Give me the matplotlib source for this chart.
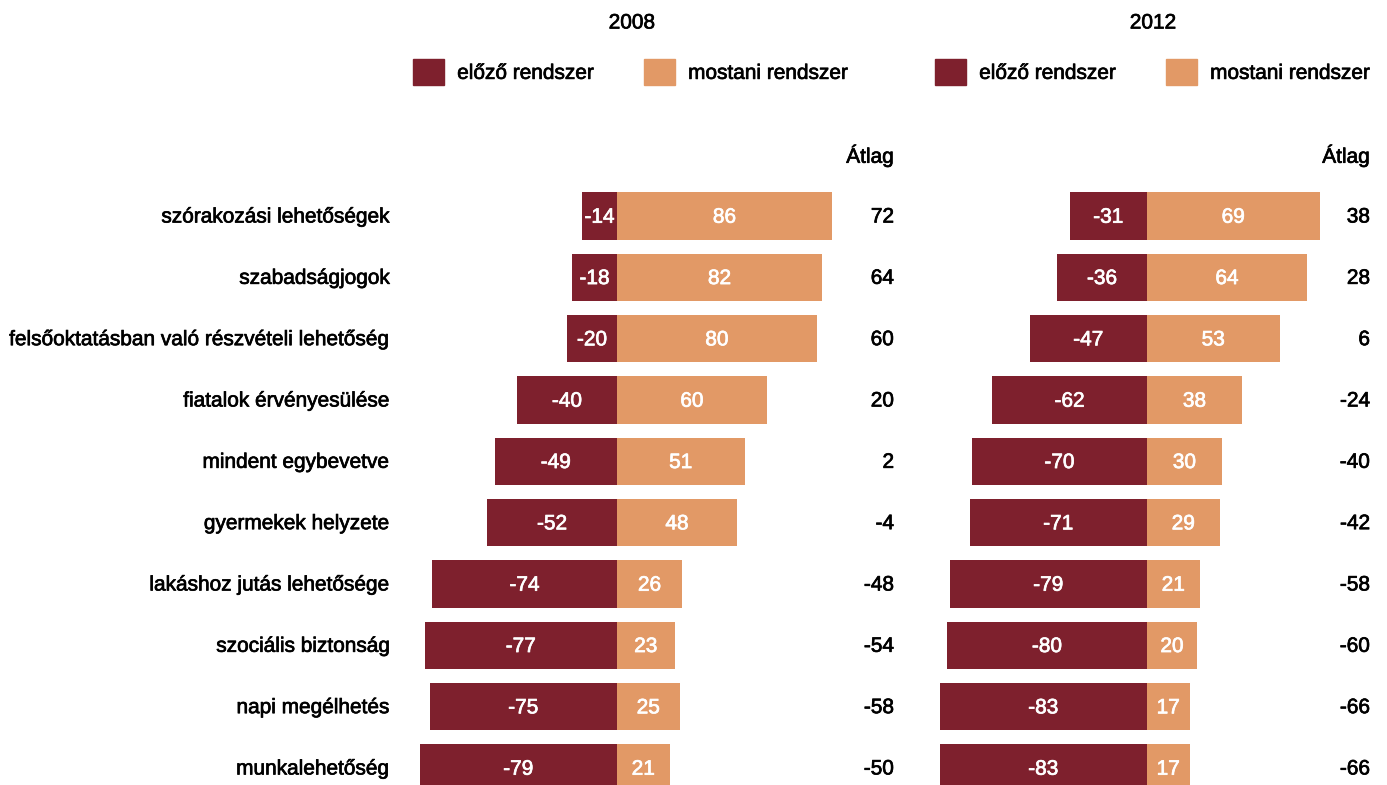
import matplotlib.pyplot as plt
import matplotlib.patheffects as pe
from matplotlib.patches import Patch

plt.rcParams['font.family'] = ['Liberation Sans', 'DejaVu Sans']

categories = ['szórakozási lehetőségek', 'szabadságjogok',
              'felsőoktatásban való részvételi lehetőség', 'fiatalok érvényesülése',
              'mindent egybevetve', 'gyermekek helyzete', 'lakáshoz jutás lehetősége',
              'szociális biztonság', 'napi megélhetés', 'munkalehetőség']

prev_2008 = [-14, -18, -20, -40, -49, -52, -74, -77, -75, -79]
curr_2008 = [86, 82, 80, 60, 51, 48, 26, 23, 25, 21]
avg_2008 = [72, 64, 60, 20, 2, -4, -48, -54, -58, -50]

prev_2012 = [-31, -36, -47, -62, -70, -71, -79, -80, -83, -83]
curr_2012 = [69, 64, 53, 38, 30, 29, 21, 20, 17, 17]
avg_2012 = [38, 28, 6, -24, -40, -42, -58, -60, -66, -66]

DARK = '#7e202d'
LIGHT = '#e29966'
W, H = 1387, 785
FS = 15

# slightly heavier strokes for all text
black_fx = [pe.withStroke(linewidth=0.5, foreground='black')]
white_fx = [pe.withStroke(linewidth=0.5, foreground='white')]

fig = plt.figure(figsize=(W / 100, H / 100), dpi=100)

# pixel helpers
def fx(px):
    return px / W

def fy(py):
    return 1 - py / H

panels = [
    ('2008', prev_2008, curr_2008, avg_2008, 617, 894),
    ('2012', prev_2012, curr_2012, avg_2012, 1147, 1370),
]

scale = 2.5  # px per percentage point
row_px = 61.33
top_px = 216 - row_px / 2

for k, (year, prev, curr, avg, zero_px, avg_px) in enumerate(panels):
    xmin, xmax = -85, 95
    left = zero_px + xmin * scale
    width = (xmax - xmin) * scale
    ax = fig.add_axes([fx(left), 0, fx(width), fy(top_px)])
    ax.set_xlim(xmin, xmax)
    ax.set_ylim(-0.5 + (H - top_px) / row_px, -0.5)
    ax.axis('off')

    y = list(range(len(categories)))
    ax.barh(y, prev, height=0.77, color=DARK)
    ax.barh(y, curr, height=0.77, color=LIGHT)
    for i in y:
        ax.text(prev[i] / 2, i + 0.02, str(prev[i]), color='white', fontsize=FS,
                ha='center', va='center', path_effects=white_fx)
        ax.text(curr[i] / 2, i + 0.02, str(curr[i]), color='white', fontsize=FS,
                ha='center', va='center', path_effects=white_fx)
        fig.text(fx(avg_px), fy(217 + i * row_px), str(avg[i]), fontsize=FS,
                 ha='right', va='center', path_effects=black_fx)
    fig.text(fx(avg_px), fy(156), 'Átlag', fontsize=FS, ha='right', va='center',
             path_effects=black_fx)

    if k == 0:
        for i, c in enumerate(categories):
            fig.text(fx(390), fy(217 + i * row_px), c, fontsize=FS,
                     ha='right', va='center', path_effects=black_fx)

    leg_left = 413 if k == 0 else 935
    leg = fig.legend(handles=[Patch(color=DARK, label='előző rendszer'),
                              Patch(color=LIGHT, label='mostani rendszer')],
                     loc='center left', bbox_to_anchor=(fx(leg_left), fy(72)),
                     ncol=2, frameon=False, fontsize=FS, handlelength=1.5,
                     handleheight=1.5, handletextpad=0.62, columnspacing=2.4,
                     borderpad=0, borderaxespad=0)
    for t in leg.get_texts():
        t.set_path_effects(black_fx)
    fig.text(fx(632 if k == 0 else 1153), fy(23), year, fontsize=FS,
             ha='center', va='center', path_effects=black_fx)

fig.savefig('out.png', dpi=100)
